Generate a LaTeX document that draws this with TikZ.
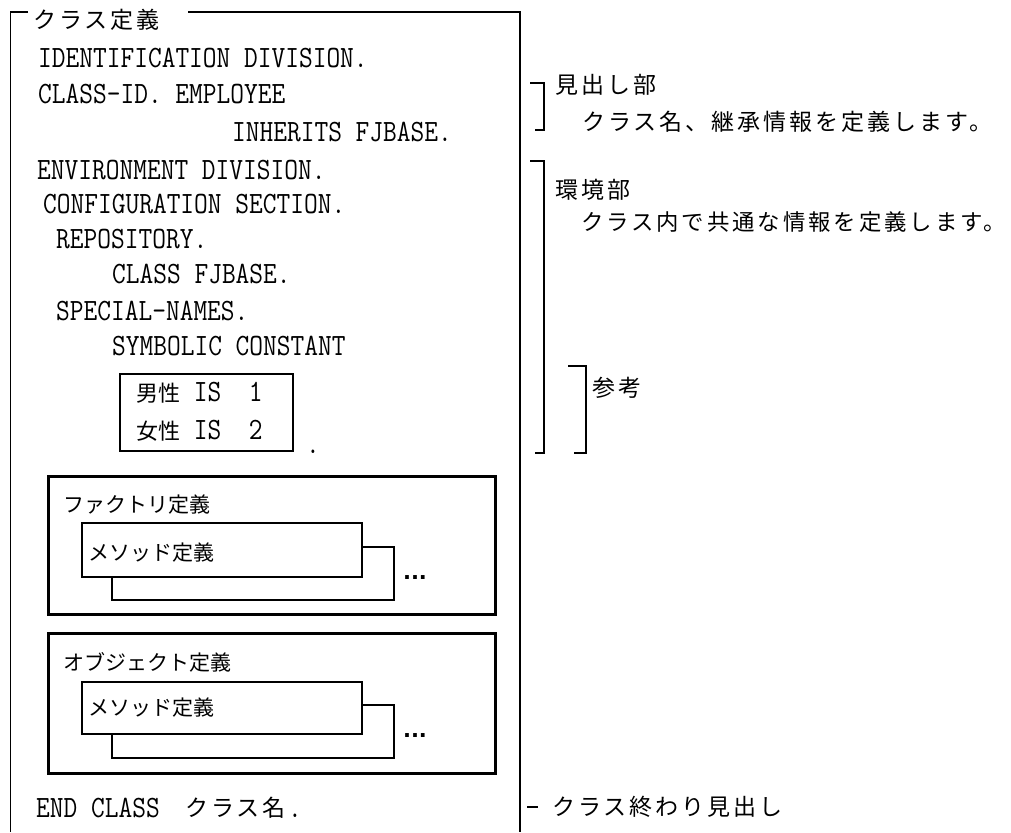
\documentclass[tikz,border=0pt]{standalone}
\usepackage{fontspec}
\newfontfamily\jp{Noto Sans CJK JP}
\newfontfamily\jpsp{Noto Sans CJK JP}[LetterSpace=13]
\newfontfamily\mono{Latin Modern Mono}[FakeStretch=0.86]
\newfontfamily\dvs{DejaVu Sans}
\newcommand\jpc{\jp\fontsize{21}{25}\selectfont}
\newcommand\jpk{\jp\fontsize{22}{26}\selectfont}
\begin{document}
\begin{tikzpicture}[x=1pt,y=-1pt,
  code/.style={anchor=base west, inner sep=0pt, font=\mono\fontsize{31}{36}\selectfont},
  jpr/.style={anchor=west, inner sep=0pt, font=\jpsp\fontsize{23}{27}\selectfont},
  jpb/.style={anchor=west, inner sep=0pt, font=\jpc},
  dots/.style={anchor=base, inner sep=0pt, font=\dvs\bfseries\fontsize{21}{24}\selectfont},
  frame/.style={line width=1.4pt},
  thickbox/.style={line width=3pt},
  mbox/.style={line width=1.2pt},
  brk/.style={line width=1.5pt}]
\useasboundingbox (0,0) rectangle (1011,832);
% outer frame
\node[jpr] (hdr) at (33,20) {クラス定義};
\draw[frame] (28,12) -- (10.5,12) -- (10.5,832);
\draw[frame] (188,12) -- (520,12) -- (520,832);
% code lines
\node[code] (l1) at (38,68) {IDENTIFICATION DIVISION.};
\node[code] (l2) at (38,104) {CLASS-ID. EMPLOYEE};
\node[code] (l3) at (232,142) {INHERITS FJBASE.};
\node[code] (l4) at (37,179) {ENVIRONMENT DIVISION.};
\node[code] (l5) at (43,213) {CONFIGURATION SECTION.};
\node[code] (l6) at (56,248) {REPOSITORY.};
\node[code] (l7) at (112,283) {CLASS FJBASE.};
\node[code] (l8) at (56,320) {SPECIAL-NAMES.};
\node[code] (l9) at (112,355) {SYMBOLIC CONSTANT};
% constants box
\draw[mbox] (120,374) rectangle (293,451);
\node[code] (c1) at (136,401) {{\jpk 男性} IS~~1};
\node[code] (c2) at (136,439) {{\jpk 女性} IS~~2};
\node[code, anchor=base] (cdot) at (313,453) {.};
% factory definition
\draw[thickbox] (48,476) rectangle (495,614);
\node[jpb] (fl) at (63,505) {ファクトリ定義};
\draw[mbox] (112,547) rectangle (394,600);
\draw[mbox, fill=white] (82,523) rectangle (362,577);
\node[jpb] (fm) at (88,553) {メソッド定義};
\node[dots] (fd) at (415,579) {...};
% object definition
\draw[thickbox] (48,633) rectangle (495,773);
\node[jpb] (ol) at (63,662) {オブジェクト定義};
\draw[mbox] (112,705) rectangle (394,758);
\draw[mbox, fill=white] (82,682) rectangle (362,734);
\node[jpb] (om) at (88,708) {メソッド定義};
\node[dots] (od) at (415,737) {...};
% end class
\node[code] (e1) at (36,817) {END CLASS};
\node[jpr] (e2) at (185,808) {クラス名};
\node[code, anchor=base] (e3) at (295,817) {.};
% right side annotations
\node[jpr] (r1) at (555,85) {見出し部};
\node[jpr] (r2) at (582,122) {クラス名、継承情報を定義します。};
\node[jpr] (r3) at (555,190) {環境部};
\node[jpr, font=\jpsp\fontsize{22.4}{27}\selectfont] (r4) at (581,222) {クラス内で共通な情報を定義します。};
\node[jpr] (r5) at (592,388) {参考};
\node[jpr] (r6) at (552,807) {クラス終わり見出し};
\draw[brk] (530,83) -- (544,83) -- (544,130) -- (535,130);
\draw[brk] (530,161) -- (544,161) -- (544,453) -- (535,453);
\draw[brk] (568,366) -- (586,366) -- (586,453) -- (574,453);
\draw[brk] (527,807) -- (538,807);
\end{tikzpicture}
\end{document}
